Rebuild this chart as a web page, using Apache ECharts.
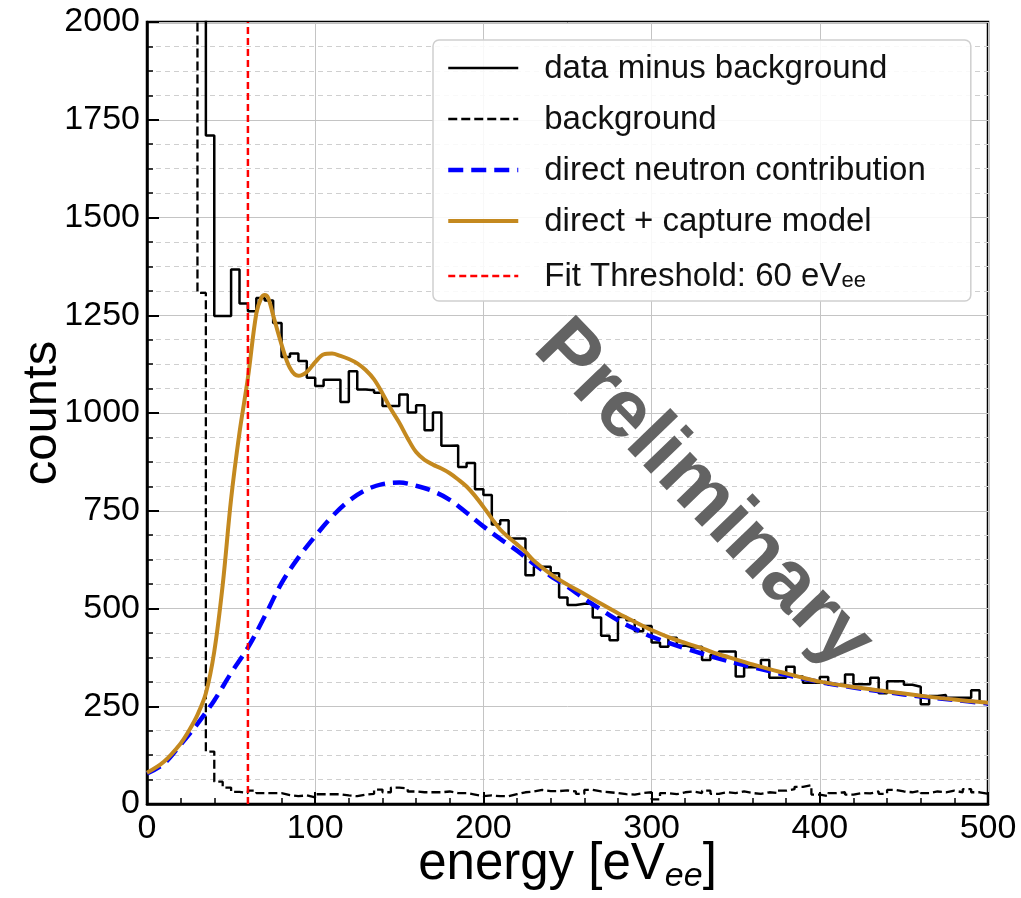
<!DOCTYPE html>
<html><head><meta charset="utf-8">
<script src="https://cdn.jsdelivr.net/npm/echarts@6/dist/echarts.min.js"></script>
<style>html,body{margin:0;padding:0;background:#fff}#chart{width:1021px;height:898px}</style>
</head><body><div id="chart"></div>
<script>
// ---- data ----
const binWidth = 5; // eV per histogram bin, bins start at 0
// data minus background, one value per 5 eV bin (0-5, 5-10, ... 495-500); first bins are off-scale (>2000)
const dataCounts = [
  3000, 3000, 3000, 3000, 3000, 3000, 3000, 1710, 1248, 1248,
  1367, 1280, 1260, 1294, 1288, 1230, 1143, 1152, 1133, 1090,
  1069, 1085, 1085, 1028, 1107, 1060, 1058, 1052, 1018, 1018,
  1047, 1001, 1020, 956, 1001, 916, 917, 862, 872, 805,
  790, 715, 726, 679, 679, 585, 607, 607, 590, 528,
  509, 512, 512, 477, 430, 419, 478, 470, 442, 455,
  413, 402, 425, 405, 400, 402, 368, 381, 390, 390,
  326, 350, 350, 368, 323, 323, 351, 326, 310, 310,
  325, 305, 305, 331, 306, 306, 323, 283, 314, 314,
  305, 300, 255, 276, 279, 272, 272, 272, 291, 260
];
// background, same binning; first bins are off-scale (>2000)
const bgCounts = [
  3000, 3000, 3000, 3000, 3000, 3000, 1307, 134, 57, 42,
  31, 28, 34, 28, 28, 28, 23, 20, 22, 17,
  25, 25, 25, 22, 20, 24, 26, 37, 30, 42,
  40, 32, 30, 30, 30, 32, 28, 28, 24, 20,
  22, 20, 20, 25, 30, 32, 36, 33, 33, 35,
  32, 26, 36, 32, 30, 28, 25, 24, 28, 30,
  12, 28, 25, 30, 32, 28, 34, 26, 30, 28,
  32, 28, 26, 30, 28, 34, 38, 44, 48, 24,
  20, 28, 30, 24, 28, 27, 32, 26, 36, 32,
  30, 34, 28, 32, 30, 34, 30, 38, 30, 26
];
// direct neutron contribution (smooth curve samples)
const directEnergy = [0,10,20,30,40,50,60,70,80,90,100,110,120,130,140,150,160,170,180,190,200,210,220,230,240,250,260,270,280,290,300,320,340,360,380,400,420,440,460,480,500];
const directCounts = [78,103,152,205,265,335,400,480,565,630,685,735,775,803,818,822,814,800,778,745,710,678,648,614,583,556,525,497,470,448,428,398,372,350,330,312,298,286,275,266,257];
// direct + capture model (smooth curve samples)
const modelEnergy = [0,10,20,25,30,35,40,45,50,55,60,65,68,70,72,75,80,85,90,95,100,105,110,115,120,125,130,135,140,145,150,155,160,165,170,175,180,185,190,195,200,205,210,215,220,225,230,240,250,260,270,280,290,300,310,320,330,340,350,360,370,380,390,400,420,440,460,480,500];
const modelCounts = [80,108,155,188,228,283,390,560,780,950,1090,1255,1295,1302,1295,1250,1175,1115,1095,1105,1130,1150,1152,1146,1138,1127,1110,1086,1050,1010,975,935,900,880,868,858,846,830,812,788,760,730,702,682,664,645,622,588,561,537,512,488,466,445,427,412,398,383,370,357,345,334,323,313,299,288,277,267,259];
const fitThreshold = 60; // eV_ee
const xRange = [0, 500];
const yRange = [0, 2000];
const names = ['data minus background', 'background', 'direct neutron contribution', 'direct + capture model', 'Fit Threshold: 60 eV'];

// ---- build library inputs ----
function stepPoints(counts) {
  const pts = counts.map((v, i) => [i * binWidth, v]);
  pts.push([counts.length * binWidth, counts[counts.length - 1]]);
  return pts;
}
function pairs(xs, ys) { return xs.map((x, i) => [x, ys[i]]); }

const FONT = 'Liberation Sans';
const chart = echarts.init(document.getElementById('chart'), null, { renderer: 'canvas' });
chart.setOption({
  animation: false,
  backgroundColor: '#fff',
  grid: { left: 147, right: 33, top: 22, bottom: 94, show: true, borderColor: '#000', borderWidth: 2.5,
          containLabel: false, outerBoundsMode: 'none' },
  xAxis: {
    type: 'value', min: xRange[0], max: xRange[1], interval: 100,
    name: '{a|energy [eV}{b|ee}{a|]}', nameLocation: 'middle', nameGap: 32, nameMoveOverlap: false,
    nameTextStyle: { rich: {
      a: { fontFamily: FONT, fontSize: 51, color: '#000', lineHeight: 58, verticalAlign: 'middle' },
      b: { fontFamily: FONT, fontSize: 34, fontStyle: 'italic', color: '#000', lineHeight: 34, verticalAlign: 'bottom' }
    } },
    axisLine: { show: true, lineStyle: { color: '#000', width: 2.5 } },
    axisTick: { show: true, inside: true, length: 12, lineStyle: { color: '#000', width: 2 } },
    minorTick: { show: true, splitNumber: 5, length: 6, lineStyle: { color: '#000', width: 1.5 } },
    axisLabel: { fontFamily: FONT, fontSize: 34, color: '#000', margin: 8, formatter: v => String(v) },
    splitLine: { show: true, lineStyle: { color: '#c4c4c4', width: 1 } },
    minorSplitLine: { show: false }
  },
  yAxis: {
    type: 'value', min: yRange[0], max: yRange[1], interval: 250,
    name: 'counts', nameLocation: 'middle', nameGap: 80, nameMoveOverlap: false,
    nameTextStyle: { fontFamily: FONT, fontSize: 49, color: '#000' },
    axisLine: { show: true, lineStyle: { color: '#000', width: 2.5 } },
    axisTick: { show: true, inside: true, length: 12, lineStyle: { color: '#000', width: 2 } },
    minorTick: { show: true, splitNumber: 4, length: 6, lineStyle: { color: '#000', width: 1.5 } },
    axisLabel: { fontFamily: FONT, fontSize: 34, color: '#000', margin: 7, formatter: v => String(v) },
    splitLine: { show: true, lineStyle: { color: '#c4c4c4', width: 1 } },
    minorSplitLine: { show: true, lineStyle: { color: '#cfcfcf', width: 1, type: [5, 4] } }
  },
  legend: {
    orient: 'vertical', left: 433, top: 40,
    padding: [12, 45, 8, 13],
    itemWidth: 70, itemHeight: 30, itemGap: 18,
    backgroundColor: 'rgba(255,255,255,0.88)', borderColor: '#cfcfcf', borderWidth: 1.5, borderRadius: 6,
    data: names,
    lineStyle: { width: 'inherit' },
    itemStyle: { opacity: 0, borderWidth: 0 },
    formatter: function (name) {
      return '{g| }{t|' + name + '}' + (name === names[4] ? '{s|ee}' : '');
    },
    textStyle: {
      fontFamily: FONT, fontSize: 33, color: '#111',
      rich: {
        g: { width: 21, fontSize: 33, lineHeight: 32, verticalAlign: 'top' },
        t: { fontFamily: FONT, fontSize: 33, color: '#111', lineHeight: 32, verticalAlign: 'top' },
        s: { fontFamily: FONT, fontSize: 22, color: '#111', lineHeight: 22, padding: [14, 0, 0, 0], verticalAlign: 'bottom' }
      }
    }
  },
  graphic: [{
    type: 'text', x: 703, y: 495, rotation: -46 * Math.PI / 180, z: 1,
    style: { text: 'Preliminary', fontFamily: FONT, fontSize: 82, fontWeight: 'bold', fill: '#636363', align: 'center', verticalAlign: 'middle' }
  }],
  series: [
    { name: names[0], type: 'line', step: 'end', symbol: 'none', clip: true, z: 3,
      data: stepPoints(dataCounts), lineStyle: { color: '#000', width: 2.5 }, itemStyle: { color: '#000' } },
    { name: names[1], type: 'line', step: 'end', symbol: 'none', clip: true, z: 3,
      data: stepPoints(bgCounts), lineStyle: { color: '#000', width: 2.3, type: [9, 4] }, itemStyle: { color: '#000' } },
    { name: names[2], type: 'line', smooth: 0.35, symbol: 'none', clip: true, z: 4,
      data: pairs(directEnergy, directCounts), lineStyle: { color: '#0000ff', width: 4.5, type: [15, 8] }, itemStyle: { color: '#0000ff' } },
    { name: names[3], type: 'line', smooth: 0.35, symbol: 'none', clip: true, z: 5,
      data: pairs(modelEnergy, modelCounts), lineStyle: { color: '#c4891f', width: 4 }, itemStyle: { color: '#c4891f' } },
    { name: names[4], type: 'line', symbol: 'none', clip: true, z: 6,
      data: [[fitThreshold, yRange[0]], [fitThreshold, yRange[1]]], lineStyle: { color: '#ff0000', width: 2.5, type: [7, 4] }, itemStyle: { color: '#ff0000' } }
  ]
});
</script></body></html>
